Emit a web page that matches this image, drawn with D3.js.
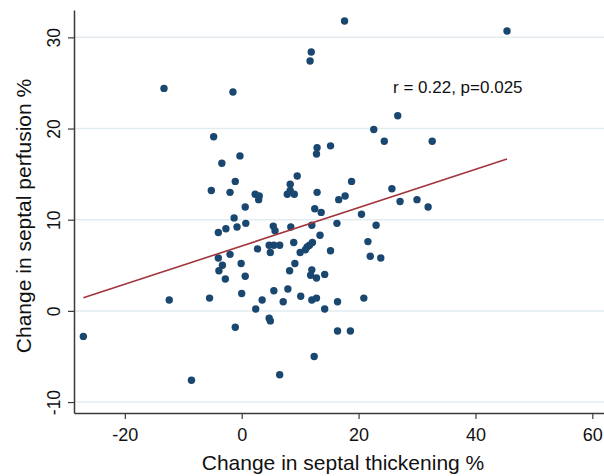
<!DOCTYPE html>
<html>
<head>
<meta charset="utf-8">
<script src="https://cdn.jsdelivr.net/npm/d3@7"></script>
<style>
  body { margin: 0; background: #fff; }
  svg { display: block; font-family: "Liberation Sans", Arial, sans-serif; }
</style>
</head>
<body>
<div id="corpo"></div>
<script>
// valores
var thickening = [-27.1, -13.3, -12.4, -8.6, 17.6, 45.4, 11.9, 11.7, -1.5, 26.7,
  22.6, -4.8, 24.4, 32.6, 12.9, 15.2, 12.8, -3.4, -0.3, 9.5,
  -1.1, 8.3, 18.8, -5.2, -2.0, 2.3, 3.0, 2.9, 7.8, 8.3,
  9.0, 12.9, 25.7, 17.7, 16.6, 27.1, 30.0, 31.9, 0.6, 12.5,
  13.6, 20.5, -1.3, 0.7, -4.0, -2.7, -0.8, 5.4, 5.7, 8.4,
  12.0, 16.3, 23.0, 13.4, 8.9, 12.1, 11.6, 11.2, 10.9, 10.0,
  21.6, 2.7, 4.7, 5.5, 6.5, 4.9, 15.2, 22.0, 23.8, -2.0,
  -4.0, -3.3, -3.9, -2.8, -0.1, 0.6, 9.1, 8.2, 12.0, 11.8,
  12.8, 14.2, -5.5, 0.0, 5.5, 7.9, 3.5, 7.1, 10.1, 12.0,
  12.8, 16.4, 20.9, 14.2, 2.4, 4.7, 4.9, -1.1, 16.4, 18.6,
  12.4, 6.5];
var perfusion = [-2.8, 24.4, 1.2, -7.6, 31.8, 30.7, 28.4, 27.4, 24.0, 21.4,
  19.9, 19.1, 18.6, 18.6, 17.9, 18.1, 17.2, 16.2, 17.0, 14.8,
  14.2, 13.9, 14.2, 13.2, 13.0, 12.8, 12.6, 12.2, 12.8, 13.2,
  12.8, 13.0, 13.4, 12.6, 12.2, 12.0, 12.2, 11.4, 11.4, 11.2,
  10.8, 10.6, 10.2, 9.6, 8.6, 9.0, 9.2, 9.3, 8.8, 9.2,
  9.4, 9.6, 9.4, 8.3, 7.5, 7.5, 7.2, 7.0, 6.7, 6.4,
  7.6, 6.8, 7.2, 7.2, 7.2, 6.4, 6.6, 6.0, 5.8, 6.2,
  5.8, 5.0, 4.4, 3.5, 5.2, 3.8, 5.2, 4.4, 4.5, 3.9,
  3.6, 4.0, 1.4, 1.9, 2.2, 2.4, 1.2, 1.0, 1.6, 1.2,
  1.4, 1.0, 1.4, 0.2, 0.2, -0.8, -1.1, -1.8, -2.2, -2.2,
  -5.0, -7.0];

var fitX = [-27.1, 45.4]; // reta de regressão
var fitY = [1.43, 16.65];

var xTicks = [-20, 0, 20, 40, 60];
var yTicks = [-10, 0, 10, 20, 30];

var statLabel = "r = 0.22, p=0.025";
var statPos = [25.9, 23.9];

var xTitle = "Change in septal thickening %";
var yTitle = "Change in septal perfusion %";

var width = 604, height = 476;

var svg = d3.select("#corpo").append("svg")
  .attr("width", width)
  .attr("height", height);

var x = d3.scaleLinear().domain([-28.7, 62]).range([74, 604]);
var y = d3.scaleLinear().domain([-11.2, 33.0]).range([413, 10]);

var axisColor = "#3a3a3a";
// hífen simples, como no original
var plainFmt = function(d) { return String(d); };

/* grade */
svg.append("g")
  .selectAll("line")
  .data(yTicks)
  .enter().append("line")
  .attr("x1", x.range()[0])
  .attr("x2", x.range()[1])
  .attr("y1", function(d) { return y(d); })
  .attr("y2", function(d) { return y(d); })
  .attr("stroke", "#e2ecf0")
  .attr("stroke-width", 1.5);

/* eixo y */
var gy = svg.append("g")
  .attr("transform", "translate(" + x.range()[0] + ",0)")
  .call(d3.axisLeft(y).tickValues(yTicks).tickFormat(plainFmt).tickSize(6).tickSizeOuter(0));

gy.select(".domain").attr("stroke", axisColor).attr("stroke-width", 1.5);
gy.selectAll(".tick line").attr("stroke", axisColor).attr("stroke-width", 1.2);
gy.selectAll(".tick text")
  .attr("x", 0).attr("dy", 0)
  .attr("transform", "translate(-14,0) rotate(-90)")
  .attr("text-anchor", "middle")
  .attr("font-size", 17.5)
  .attr("fill", "#111");

/* eixo x */
var gx = svg.append("g")
  .attr("transform", "translate(0," + y.range()[0] + ")")
  .call(d3.axisBottom(x).tickValues(xTicks).tickFormat(plainFmt).tickSize(6).tickSizeOuter(0));

gx.select(".domain").attr("stroke", axisColor).attr("stroke-width", 1.5);
gx.selectAll(".tick line").attr("stroke", axisColor).attr("stroke-width", 1.2);
gx.selectAll(".tick text")
  .attr("y", 28).attr("dy", 0)
  .attr("font-size", 18)
  .attr("fill", "#111");

/* pontos */
svg.append("g")
  .selectAll("circle")
  .data(thickening)
  .enter().append("circle")
  .attr("cx", function(d) { return x(d); })
  .attr("cy", function(d, i) { return y(perfusion[i]); })
  .attr("r", 3.7)
  .attr("fill", "#1a476f");

/* reta */
svg.append("line")
  .attr("x1", x(fitX[0])).attr("y1", y(fitY[0]))
  .attr("x2", x(fitX[1])).attr("y2", y(fitY[1]))
  .attr("stroke", "#a3353c")
  .attr("stroke-width", 1.6);

/* anotação */
svg.append("text")
  .attr("x", x(statPos[0]))
  .attr("y", y(statPos[1]))
  .attr("font-size", 17)
  .attr("fill", "#111")
  .text(statLabel);

/* títulos */
svg.append("text")
  .attr("x", 343)
  .attr("y", 470)
  .attr("text-anchor", "middle")
  .attr("font-size", 21)
  .attr("fill", "#111")
  .text(xTitle);

svg.append("text")
  .attr("transform", "translate(31,216) rotate(-90)")
  .attr("text-anchor", "middle")
  .attr("font-size", 21)
  .attr("fill", "#111")
  .text(yTitle);
</script>
</body>
</html>
